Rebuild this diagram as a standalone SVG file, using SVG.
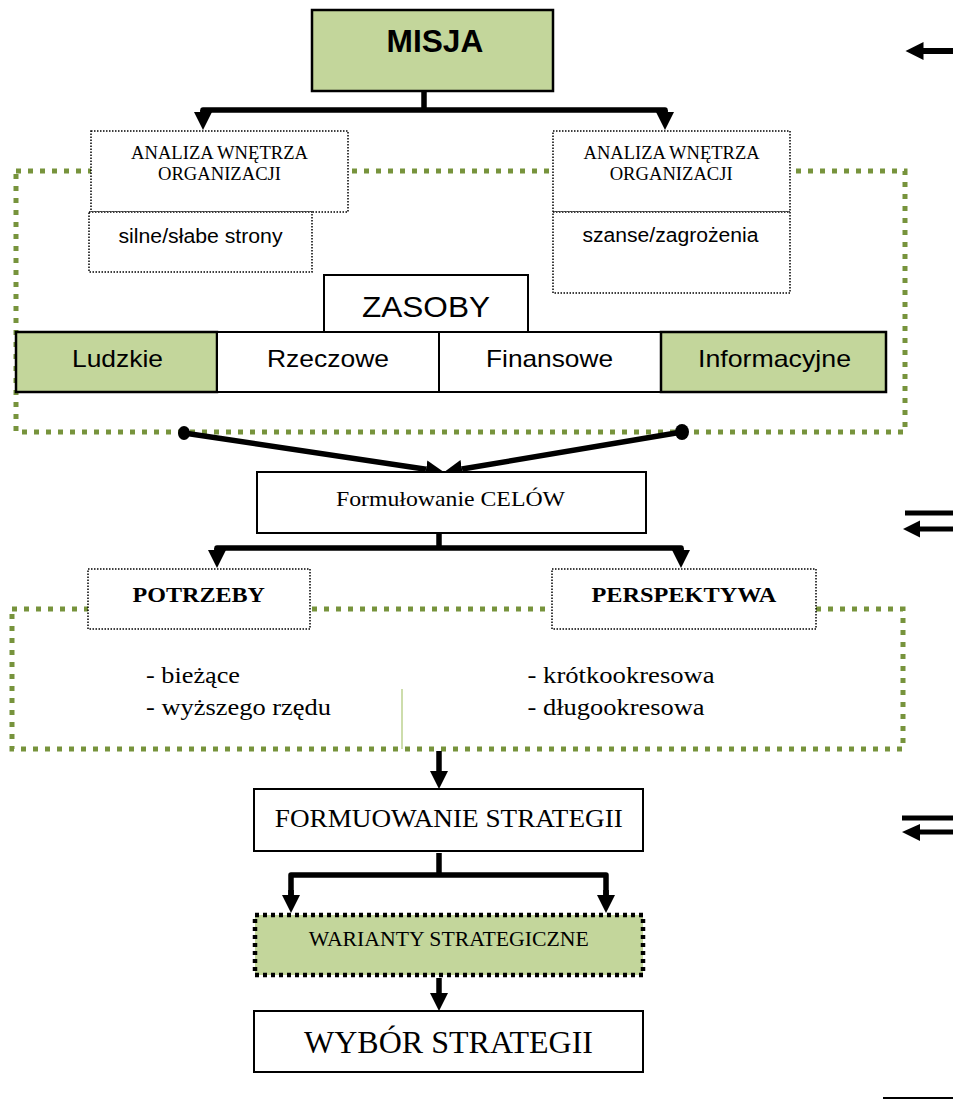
<svg xmlns="http://www.w3.org/2000/svg" width="953" height="1100" viewBox="0 0 953 1100">
<style>
.sans{font-family:"Liberation Sans",Arial,sans-serif;fill:#000}
.serif{font-family:"Liberation Serif","Times New Roman",serif;fill:#000}
.box{fill:#fff;stroke:#000;stroke-width:2}
.green{fill:#c3d69b}
.dotbox{fill:#fff;stroke:#000;stroke-width:1.5;stroke-dasharray:1.5 1.5}
.gborder{fill:none;stroke:#77933c;stroke-width:5;stroke-dasharray:5 7}
.conn{fill:none;stroke:#000;stroke-width:5.5}
</style>
<defs>
<marker id="ah" markerUnits="userSpaceOnUse" markerWidth="20" markerHeight="20" refX="0" refY="9" orient="auto">
<path d="M0,0 L18,9 L0,18 Z" fill="#000"/>
</marker>
</defs>
<rect width="953" height="1100" fill="#fff"/>

<g id="group1">
<rect class="gborder" x="16" y="171" width="889" height="261"/>
</g>
<g id="group2">
<rect class="gborder" x="12" y="609" width="891" height="140"/>
<line x1="402" y1="689" x2="402" y2="749" stroke="#9bbb59" stroke-width="1"/>
</g>

<g id="connectors">
<polyline class="conn" points="424,91 424,110"/>
<polyline class="conn" points="203,113 203,110 665,110 665,113" stroke-linejoin="round"/>
<line x1="203" y1="110" x2="203" y2="112" class="conn" marker-end="url(#ah)"/>
<line x1="665" y1="110" x2="665" y2="112" class="conn" marker-end="url(#ah)"/>

<line x1="184" y1="433" x2="426" y2="469.3" class="conn" marker-end="url(#ah)"/>
<line x1="682" y1="432" x2="462" y2="469" class="conn" marker-end="url(#ah)"/>
<ellipse cx="184" cy="433" rx="6" ry="7" fill="#000"/>
<ellipse cx="682" cy="432" rx="7" ry="8" fill="#000"/>

<polyline class="conn" points="439,533 439,548"/>
<polyline class="conn" points="217,551 217,548 681,548 681,551" stroke-linejoin="round"/>
<line x1="217" y1="548" x2="217" y2="550" class="conn" marker-end="url(#ah)"/>
<line x1="681" y1="548" x2="681" y2="550" class="conn" marker-end="url(#ah)"/>

<line x1="439" y1="751" x2="439" y2="771" class="conn" marker-end="url(#ah)"/>

<polyline class="conn" points="439,853 439,875"/>
<polyline class="conn" points="291,896 291,875 606,875 606,896" stroke-linejoin="round"/>
<line x1="291" y1="890" x2="291" y2="895" class="conn" marker-end="url(#ah)"/>
<line x1="606" y1="890" x2="606" y2="895" class="conn" marker-end="url(#ah)"/>

<line x1="439" y1="978" x2="439" y2="993" class="conn" marker-end="url(#ah)"/>
</g>

<g id="misja">
<rect class="green" x="312" y="10" width="241" height="81" stroke="#000" stroke-width="2.5"/>
<text class="sans" x="386.6" y="51.7" font-size="31" font-weight="bold" textLength="96.7" lengthAdjust="spacingAndGlyphs">MISJA</text>
</g>

<g id="analiza-left">
<rect class="dotbox" x="91" y="131" width="257" height="81"/>
<text class="serif" x="131" y="159" font-size="19" textLength="177" lengthAdjust="spacingAndGlyphs">ANALIZA WNĘTRZA</text>
<text class="serif" x="158" y="180" font-size="19" textLength="123" lengthAdjust="spacingAndGlyphs">ORGANIZACJI</text>
</g>
<g id="silne">
<rect class="dotbox" x="89" y="212" width="223" height="60"/>
<text class="sans" x="118.5" y="243" font-size="20" textLength="164" lengthAdjust="spacingAndGlyphs">silne/słabe strony</text>
</g>

<g id="analiza-right">
<rect class="dotbox" x="553" y="131" width="237" height="81"/>
<text class="serif" x="583.6" y="159" font-size="19" textLength="176" lengthAdjust="spacingAndGlyphs">ANALIZA WNĘTRZA</text>
<text class="serif" x="609.7" y="180" font-size="19" textLength="123" lengthAdjust="spacingAndGlyphs">ORGANIZACJI</text>
</g>
<g id="szanse">
<rect class="dotbox" x="553" y="212" width="237" height="81"/>
<text class="sans" x="582.4" y="242" font-size="20" textLength="176" lengthAdjust="spacingAndGlyphs">szanse/zagrożenia</text>
</g>

<g id="zasoby">
<rect class="box" x="324" y="275" width="204" height="57"/>
<text class="sans" x="362" y="317" font-size="29" textLength="128" lengthAdjust="spacingAndGlyphs">ZASOBY</text>
</g>

<g id="ludzkie">
<rect class="green" x="16" y="332" width="201" height="60" stroke="#000" stroke-width="2.5"/>
<text class="sans" x="72" y="367" font-size="24" textLength="91" lengthAdjust="spacingAndGlyphs">Ludzkie</text>
</g>
<g id="rzeczowe">
<rect class="box" x="217" y="332" width="222" height="60" stroke-width="2.5"/>
<text class="sans" x="267" y="367" font-size="24" textLength="122" lengthAdjust="spacingAndGlyphs">Rzeczowe</text>
</g>
<g id="finansowe">
<rect class="box" x="439" y="332" width="222" height="60" stroke-width="2.5"/>
<text class="sans" x="486" y="367" font-size="24" textLength="127" lengthAdjust="spacingAndGlyphs">Finansowe</text>
</g>
<g id="informacyjne">
<rect class="green" x="661" y="332" width="225" height="60" stroke="#000" stroke-width="2.5"/>
<text class="sans" x="698" y="367" font-size="24" textLength="153" lengthAdjust="spacingAndGlyphs">Informacyjne</text>
</g>

<g id="cele">
<rect class="box" x="257" y="472" width="389" height="61"/>
<text class="serif" x="336" y="506" font-size="22" textLength="229" lengthAdjust="spacingAndGlyphs">Formułowanie CELÓW</text>
</g>

<g id="potrzeby">
<rect class="dotbox" x="88" y="569" width="222" height="60"/>
<text class="serif" x="132.5" y="602" font-size="22" font-weight="bold" textLength="132.5" lengthAdjust="spacingAndGlyphs">POTRZEBY</text>
</g>
<g id="perspektywa">
<rect class="dotbox" x="552" y="569" width="264" height="60"/>
<text class="serif" x="591.4" y="602" font-size="22" font-weight="bold" textLength="185" lengthAdjust="spacingAndGlyphs">PERSPEKTYWA</text>
</g>

<g id="potrzeby-list">
<text class="serif" x="146" y="683" font-size="24" textLength="94" lengthAdjust="spacingAndGlyphs">- bieżące</text>
<text class="serif" x="146" y="715" font-size="24" textLength="185" lengthAdjust="spacingAndGlyphs">- wyższego rzędu</text>
</g>
<g id="perspektywa-list">
<text class="serif" x="527.6" y="683" font-size="24" textLength="187" lengthAdjust="spacingAndGlyphs">- krótkookresowa</text>
<text class="serif" x="527.6" y="715" font-size="24" textLength="177" lengthAdjust="spacingAndGlyphs">- długookresowa</text>
</g>

<g id="formulowanie">
<rect class="box" x="254" y="789" width="389" height="62"/>
<text class="serif" x="274.8" y="827" font-size="26" textLength="348" lengthAdjust="spacingAndGlyphs">FORMUOWANIE STRATEGII</text>
</g>

<g id="warianty">
<rect class="green" x="255" y="915" width="388" height="60" stroke="#000" stroke-width="4.5" stroke-dasharray="4 4"/>
<text class="serif" x="308.8" y="946" font-size="20" textLength="280" lengthAdjust="spacingAndGlyphs">WARIANTY STRATEGICZNE</text>
</g>

<g id="wybor">
<rect class="box" x="254" y="1011" width="389" height="61"/>
<text class="serif" x="304" y="1052.7" font-size="32" textLength="289" lengthAdjust="spacingAndGlyphs">WYBÓR STRATEGII</text>
</g>

<g id="side-arrows" fill="#000">
<rect x="921" y="48" width="32" height="6"/>
<polygon points="905.5,51 923.5,42 923.5,60"/>
<rect x="905" y="510.5" width="48" height="5"/>
<rect x="918" y="526.5" width="35" height="5"/>
<polygon points="903,529 920,520.5 920,537.5"/>
<rect x="902" y="815.5" width="51" height="5"/>
<rect x="917" y="829.5" width="36" height="5"/>
<polygon points="902,832 920,824 920,841"/>
<rect x="883" y="1097" width="70" height="2"/>
</g>
</svg>
